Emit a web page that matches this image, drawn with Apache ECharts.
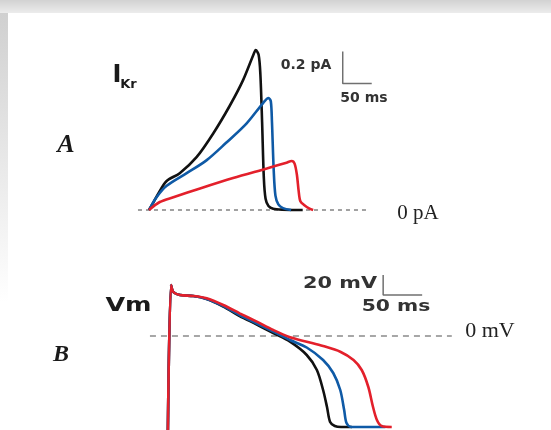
<!DOCTYPE html>
<html>
<head>
<meta charset="utf-8">
<script src="https://cdn.jsdelivr.net/npm/echarts@6/dist/echarts.min.js"></script>
<style>
  html, body { margin: 0; padding: 0; background: #fff; }
  #chart { width: 551px; height: 430px; }
</style>
</head>
<body>
<div id="chart"></div>
<script>
// panel A: IKr traces, [time ms, current pA]
var ikrBlack = [[0,0],[8,0.05],[15.7,0.10],[30,0.18],[53,0.23],[82,0.33],[111,0.48],[139,0.65],[162,0.81],[180,0.97],[184,1.0],[189,0.97],[192,0.85],[195,0.55],[198,0.2],[201,0.07],[206,0.025],[214,0.008],[230,0.002],[265,0]];
var ikrBlue  = [[0,0],[13,0.08],[30,0.15],[65,0.23],[99,0.31],[133,0.42],[168,0.54],[197,0.67],[206,0.70],[210,0.68],[212,0.55],[215,0.25],[218,0.09],[223,0.035],[231,0.012],[245,0]];
var ikrRed   = [[0,0],[18.6,0.05],[42,0.08],[88,0.135],[145,0.2],[203,0.26],[237,0.296],[246,0.306],[251,0.29],[255,0.22],[258,0.12],[261,0.055],[268,0.03],[276,0.01],[283,0]];

// panel B: action potentials, [time ms, voltage mV]
var apBlack = [[-4,-95],[0,51],[3,44],[11.5,41],[28.6,40],[45.7,37],[67,29.5],[88,20],[110,11.5],[131,3],[152.6,-5.7],[174,-19],[187,-34],[195,-54],[200,-71],[204,-86],[210,-90],[218,-91],[232,-91]];
var apBlue  = [[-4,-95],[0,51],[3,44],[11.5,41],[28.6,40],[45.7,37],[67,30],[88,21],[110,12.5],[131,4.5],[152.6,-4],[174,-11.5],[195,-24],[208,-37],[217,-54],[222,-74],[225,-87],[231,-91],[275,-91]];
var apRed   = [[-4,-95],[0,51],[3,44],[11.5,41],[28.6,40],[45.7,37.7],[67,31],[88,22.7],[110,14.3],[131,6],[152.6,-1.3],[174,-5.7],[195,-10],[217,-15.7],[234,-24],[244.5,-34],[253,-51],[259,-71],[264,-84],[270,-90],[283,-91]];

// scale bars and zero lines
var zeroA = [[-19,0],[378,0]];
var zeroB = [[-27,0],[360,0]];
var scaleBarA = [[334,0.99],[334,0.79],[384,0.79]];
var scaleBarB = [[272,61],[272,41],[322,41]];

var traceColors = ['#111111', '#0f5aa6', '#e3202b'];

function trace(name, data, color, idx) {
    return {
        name: name, type: 'line', data: data,
        xAxisIndex: idx, yAxisIndex: idx,
        showSymbol: false, smooth: 0.3,
        lineStyle: { color: color, width: 2.6 },
        silent: true, animation: false
    };
}

function guide(data, idx, style) {
    return {
        type: 'line', data: data, xAxisIndex: idx, yAxisIndex: idx,
        showSymbol: false, silent: true, animation: false,
        lineStyle: style
    };
}

function label(x, y, text, font, scaleX, fill) {
    return {
        type: 'text', x: x, y: y, scaleX: scaleX || 1, silent: true,
        style: {
            text: text, font: font, fill: fill || '#1a1a1a',
            textAlign: 'center', textVerticalAlign: 'middle'
        }
    };
}

var chart = echarts.init(document.getElementById('chart'), null, { renderer: 'canvas' });

chart.setOption({
    backgroundColor: '#ffffff',
    animation: false,
    grid: [
        { left: 137.4, top: 34, width: 255.2, height: 192 },
        { left: 147.6, top: 271, width: 312, height: 159 }
    ],
    xAxis: [
        { type: 'value', gridIndex: 0, min: -20, max: 420, show: false },
        { type: 'value', gridIndex: 1, min: -30, max: 370, show: false }
    ],
    yAxis: [
        { type: 'value', gridIndex: 0, min: -0.1, max: 1.1, show: false },
        { type: 'value', gridIndex: 1, min: -94, max: 65, show: false }
    ],
    series: [
        guide(zeroA, 0, { color: '#8a8a8a', width: 1.6, type: [4, 4] }),
        guide(zeroB, 1, { color: '#8a8a8a', width: 1.6, type: [6, 5] }),
        guide(scaleBarA, 0, { color: '#707070', width: 1.5 }),
        guide(scaleBarB, 1, { color: '#707070', width: 1.5 }),
        trace('black', ikrBlack, traceColors[0], 0),
        trace('blue', ikrBlue, traceColors[1], 0),
        trace('red', ikrRed, traceColors[2], 0),
        trace('black', apBlack, traceColors[0], 1),
        trace('blue', apBlue, traceColors[1], 1),
        trace('red', apRed, traceColors[2], 1)
    ],
    graphic: [
        // grey frame edge at top and left
        { type: 'rect', shape: { x: 0, y: 0, width: 551, height: 13 }, silent: true,
          style: { fill: new echarts.graphic.LinearGradient(0, 0, 0, 1, [
              { offset: 0, color: '#d2d2d2' }, { offset: 1, color: '#ececec' }]) } },
        { type: 'rect', shape: { x: 0, y: 13, width: 8, height: 290 }, silent: true,
          style: { fill: new echarts.graphic.LinearGradient(0, 0, 0, 1, [
              { offset: 0, color: '#d0d0d0' }, { offset: 1, color: '#ffffff' }]) } },
        label(117, 76, 'I', 'bold 24px "DejaVu Sans"'),
        label(128.5, 85, 'Kr', 'bold 13px "DejaVu Sans"'),
        label(66, 145, 'A', 'italic bold 26px "Liberation Serif"'),
        label(306, 65, '0.2 pA', 'bold 14px "DejaVu Sans"', 1, '#333'),
        label(364, 98, '50 ms', 'bold 14px "DejaVu Sans"', 1, '#333'),
        label(418, 214, '0 pA', '20px "Liberation Serif"', 1.05, '#222'),
        label(128.5, 306, 'Vm', 'bold 20px "DejaVu Sans"', 1.27),
        label(61, 355, 'B', 'italic bold 24px "Liberation Serif"'),
        label(340, 284, '20 mV', 'bold 16px "DejaVu Sans"', 1.3, '#333'),
        label(396, 307, '50 ms', 'bold 16px "DejaVu Sans"', 1.27, '#333'),
        label(490, 332, '0 mV', '20px "Liberation Serif"', 1.1, '#222')
    ]
});
</script>
</body>
</html>
